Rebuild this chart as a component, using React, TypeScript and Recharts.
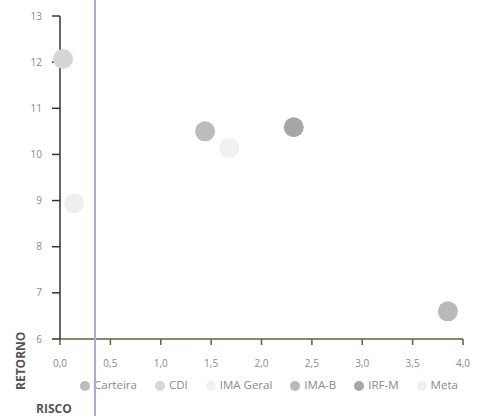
import { ScatterChart, Scatter, XAxis, YAxis, ZAxis, Legend } from 'recharts';

// risk (x) and return (y) per index, one scatter series each
const nomes = ['Carteira', 'CDI', 'IMA Geral', 'IMA-B', 'IRF-M', 'Meta'];
const risco = [1.44, 0.03, 1.68, 3.85, 2.32, 0.14];
const retorno = [10.5, 12.07, 10.14, 6.6, 10.59, 8.94];
const cores = ['#bcbcba', '#d6d6d4', '#f1f1f1', '#b9b9b7', '#a6a7a5', '#efefef'];

const xTicks = [0, 0.5, 1, 1.5, 2, 2.5, 3, 3.5, 4];
const yTicks = [6, 7, 8, 9, 10, 11, 12, 13];

const fmt = (v: number) => v.toFixed(1).replace('.', ',');

export default function App() {
  const font = '"Open Sans", sans-serif';
  return (
    <div style={{ position: 'absolute', left: 0, top: 0, width: 485, height: 416, background: '#fff', fontFamily: font }}>
      <ScatterChart width={485} height={416} margin={{ top: 16, right: 22, bottom: 22, left: 0 }}>
        <XAxis
          type="number"
          dataKey="x"
          domain={[0, 4]}
          ticks={xTicks}
          tickFormatter={fmt}
          stroke="#6b5b3c"
          strokeWidth={1.5}
          tickSize={6}
          tickMargin={15}
          height={40}
          tick={{ fill: '#8a8a8a', fontSize: 10 }}
        />
        <YAxis
          type="number"
          dataKey="y"
          domain={[6, 13]}
          ticks={yTicks}
          width={60}
          stroke="#333"
          strokeWidth={1.5}
          tickSize={8}
          tickMargin={10}
          tick={{ fill: '#8a8a8a', fontSize: 10 }}
        />
        <ZAxis type="number" dataKey="z" range={[314, 314]} />
        <Legend
          verticalAlign="bottom"
          align="left"
          iconType="circle"
          iconSize={10}
          itemSorter={(item: any) => nomes.indexOf(item.value)}
          formatter={(v: string) => <span style={{ color: '#8a8a8a', paddingRight: 8 }}>{v}</span>}
          wrapperStyle={{ fontSize: 11.5, left: 80, bottom: 24, width: 400 }}
        />
        {nomes.map((n, i) => (
          <Scatter
            key={n}
            name={n}
            data={[{ x: risco[i], y: retorno[i], z: 1 }]}
            fill={cores[i]}
            isAnimationActive={false}
          />
        ))}
      </ScatterChart>
      <div
        style={{
          position: 'absolute',
          left: 12,
          top: 390,
          transform: 'rotate(-90deg)',
          transformOrigin: 'left top',
          fontSize: 12,
          fontWeight: 700,
          color: '#555',
          whiteSpace: 'nowrap',
        }}
      >
        RETORNO
      </div>
      <div style={{ position: 'absolute', left: 36, top: 400, fontSize: 12, fontWeight: 700, color: '#555' }}>RISCO</div>
      <div style={{ position: 'absolute', left: 94, top: 0, width: 1.5, height: 416, background: '#a9a8e6' }} />
    </div>
  );
}
